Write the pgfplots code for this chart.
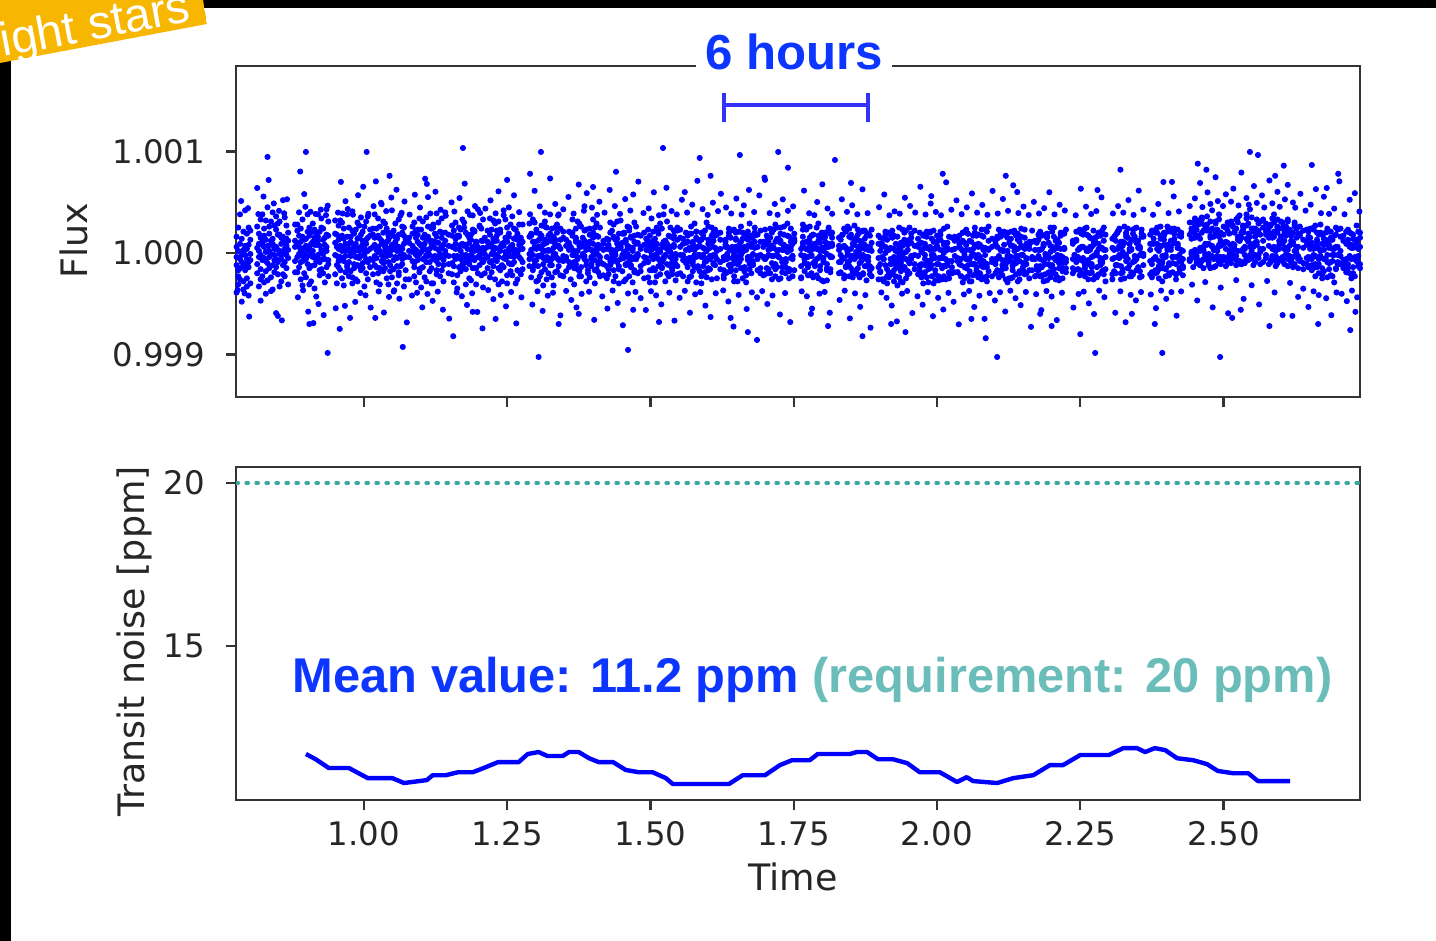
\documentclass[border=0pt]{standalone}
\usepackage{pgfplots}
\pgfplotsset{compat=1.18}
\usepackage{pgfplotstable}
\usepackage{fontspec}
\setmainfont{DejaVu Sans}
\newfontfamily\hfont{Liberation Sans}
\definecolor{txtblue}{RGB}{12,54,255}
\definecolor{reqteal}{RGB}{107,189,186}
\definecolor{dotteal}{RGB}{60,168,158}
\definecolor{bannerorange}{RGB}{247,183,0}
\definecolor{framegray}{RGB}{51,51,51}
\definecolor{ptblue}{RGB}{0,0,255}
\definecolor{barblue}{RGB}{50,50,250}

% time in millidays, flux as deviation from 1 in ppm (five samples per time step)
\pgfplotstableread{
t a b c d e
778 -120 160 -390 -40 60
781 -310 20 -170 250 -230
784 90 -260 -60 -150 380
787 -20 -480 140 -90 10
790 210 -130 -280 30 -360
793 -170 70 -20 420 -110
796 40 -330 190 -250 -60
799 -90 250 -140 80 -420
802 130 -70 -300 -10 220
814 260 -110 50 -200 640
817 -40 190 -330 90 20
820 150 -20 330 -160 -260
823 -230 80 110 380 -70
826 60 -290 -50 170 240
829 320 10 -180 -80 130
832 -100 450 70 -270 946
835 190 -150 260 20 -40
838 -10 120 -240 310 80
841 90 -360 140 -120 400
844 270 40 -70 -20 -190
847 -140 230 360 60 -60
850 30 -90 -210 180 290
853 180 310 20 -330 -10
856 -60 -20 150 90 -280
859 110 160 -120 -210 520
862 350 -230 40 10 -90
865 -20 70 270 -150 140
868 200 -50 -310 120 30
880 120 -190 60 280 -80
884 -190 280 90 -40 220
887 60 -140 400 170 -10
890 240 20 -90 -260 110
893 -80 330 160 -30 -320
896 130 -200 -10 580 50
899 995 70 -240 140 -60
902 -30 210 30 -110 380
905 170 -310 250 60 -150
908 10 90 -130 -280 200
911 290 -40 110 20 -20
914 -120 150 -350 230 80
917 80 -80 200 -60 -430
920 -50 380 -20 120 160
923 210 -170 70 -220 -90
926 30 10 -160 340 250
929 -200 240 130 -10 -60
932 150 -60 -290 80 30
935 60 180 20 -140 430
938 -70 -230 310 170 -110
950 -20 190 -210 100 320
953 180 -120 60 -300 -30
956 -140 40 270 130 -80
959 70 320 -40 -170 150
962 300 -60 170 20 -250
965 -80 140 -320 240 40
968 20 -190 90 -30 510
971 160 70 -120 380 -140
974 -230 250 30 -90 90
977 110 -30 -180 160 -10
980 40 410 220 -240 -300
983 -110 -150 10 80 190
986 230 90 -260 -40 60
989 -40 -280 140 300 -120
992 150 20 -50 -130 270
995 -170 180 350 60 -30
998 80 -100 -150 210 120
1001 20 260 -20 -330 40
1004 310 -60 130 90 -200
1007 -90 150 -260 20 360
1011 -60 230 -140 40 170
1016 180 -210 60 240 -70
1019 -30 80 380 -120 150
1022 240 -140 -50 30 -290
1025 60 340 170 -200 10
1028 -150 20 -310 140 260
1031 120 -80 90 -20 480
1034 -60 200 -180 310 -100
1037 290 60 20 -150 80
1040 10 -250 240 110 -30
1043 170 130 -90 -310 200
1046 -120 -20 160 50 -180
1049 80 420 -240 190 30
1052 220 -160 40 -70 -380
1055 -40 90 290 160 110
1058 140 -300 -130 20 -50
1061 -190 180 60 -220 330
1064 50 20 -10 370 -130
1067 260 -110 200 -60 40
1070 -20 250 -330 90 170
1073 110 -40 130 -170 -260
1079 150 -40 -260 100 20
1085 190 70 -80 260 10
1088 -100 -230 300 40 -140
1091 30 150 -20 -290 220
1094 230 -70 110 180 -30
1097 -160 340 -190 -10 90
1100 70 10 230 -150 -340
1103 310 -140 -60 60 150
1106 -50 180 90 -240 40
1109 140 -20 -280 350 -90
1112 20 260 160 -30 550
1115 -180 -90 40 120 -20
1118 90 120 -150 -300 240
1121 250 -300 280 70 -60
1124 -30 50 -40 190 110
1127 160 390 -210 -80 -170
1130 -110 -40 100 30 300
1133 40 210 -10 -230 -40
1136 200 -170 340 150 60
1139 -70 80 -120 -50 -280
1142 120 -10 200 400 20
1148 -110 180 70 -200 -30
1154 -210 270 60 -100 170
1157 60 -130 -290 220 -30
1160 300 40 140 -60 90
1163 -40 -220 -30 170 -350
1166 170 160 250 -140 40
1169 20 -60 -180 80 230
1172 -130 330 90 -20 -110
1175 250 -100 -50 300 70
1178 80 200 -310 -160 -20
1181 -90 -30 180 40 410
1184 150 100 -110 -250 -70
1187 -20 -270 30 130 180
1190 230 60 370 -40 -150
1193 -150 220 -70 210 20
1196 90 -150 110 -310 110
1199 30 430 -200 60 -40
1202 270 -20 -30 -120 260
1205 -60 120 240 20 -220
1208 120 -340 -90 330 50
1211 -200 40 150 -60 -10
1216 60 -150 220 -40 110
1220 180 -90 -240 90 340
1223 -10 230 60 -190 -80
1226 110 -130 320 20 140
1229 290 50 -70 -260 -30
1232 -80 -20 170 120 220
1235 40 310 -150 -40 -310
1238 200 -170 20 230 60
1241 -130 90 -280 70 -120
1244 70 -50 100 -140 420
1247 330 150 -30 10 -60
1250 -40 -220 250 -300 110
1253 160 40 -100 190 20
1256 -110 280 60 -30 -180
1259 50 -110 -220 360 80
1262 240 10 140 -90 -40
1265 -20 -300 30 150 230
1268 130 190 -170 -10 -260
1271 -180 -40 280 80 30
1274 90 120 -60 -210 150
1277 280 -160 110 40 -90
1289 -60 -10 160 290 -130
1292 170 -240 -40 30 190
1295 -140 110 330 -170 -20
1298 60 -80 -120 110 300
1301 230 200 40 -280 -70
1304 -30 -130 -270 60 120
1307 140 60 190 -30 -230
1310 -190 270 -20 170 40
1313 80 -50 90 -320 -110
1316 310 130 -160 20 260
1319 -70 -260 250 100 -40
1322 20 30 -50 -200 170
1325 190 -120 120 380 -80
1328 -120 240 -240 -60 20
1331 110 -20 50 160 -320
1334 250 90 -190 -10 130
1337 -50 -180 280 200 -50
1340 60 380 -70 -130 70
1343 -220 -70 130 40 240
1348 210 -80 -30 150 -230
1353 -40 130 -180 -60 70
1358 30 -90 210 100 -140
1361 -100 200 -110 -260 60
1364 200 -20 30 170 330
1367 -20 -310 -150 20 -90
1370 130 110 240 -110 150
1373 -160 20 -60 310 -40
1376 70 290 100 -180 -230
1379 260 -140 -230 60 80
1382 -30 70 150 -30 -10
1385 120 -60 -30 220 460
1388 -80 230 -280 -120 30
1391 40 -200 60 90 -170
1394 240 100 180 -240 110
1397 -130 -40 -110 30 -60
1400 90 330 10 150 200
1403 -10 -170 250 -70 -300
1406 170 50 -160 290 20
1409 -190 160 80 -20 -110
1412 50 -80 -40 -230 250
1418 90 -220 120 30 -110
1424 -40 -130 -250 40 140
1427 130 80 60 -160 -210
1430 -120 300 -80 200 30
1433 30 -50 220 -10 -90
1436 280 150 -170 -280 160
1439 -70 -230 20 130 -20
1442 90 40 140 -90 310
1445 -160 190 -300 50 -130
1448 60 -60 90 320 50
1451 190 100 -20 -180 -40
1454 -50 -280 200 10 190
1457 110 130 -110 -120 -260
1460 -10 -30 40 260 70
1463 250 220 -230 60 -80
1466 -140 -120 160 -40 150
1469 40 50 -60 -290 20
1472 170 -190 300 110 -170
1475 -60 260 -30 -60 90
1478 100 -10 -200 180 -30
1483 -130 60 170 -180 40
1489 200 -100 -40 80 -250
1493 140 90 30 140 -50
1496 -90 -240 230 -80 120
1499 60 170 -170 20 -290
1502 -170 -30 80 340 30
1505 210 120 -60 -150 80
1508 -20 -290 140 60 -170
1511 90 40 -230 -30 250
1514 -130 230 20 190 -60
1517 30 -80 290 -210 10
1520 240 -150 -90 80 -140
1523 -60 60 110 -40 380
1526 120 -30 -280 120 -20
1529 -200 310 40 -110 90
1532 20 -120 170 30 -230
1535 160 10 -40 250 60
1538 -40 -210 -150 -170 -90
1541 80 140 220 60 170
1544 -110 -60 -20 -270 -10
1547 220 250 -210 130 -130
1552 -20 150 -200 230 60
1557 140 -230 90 -70 -20
1562 100 30 -100 200 -60
1565 -140 -280 170 -90 110
1568 50 190 -50 30 -240
1571 190 -50 260 -230 40
1574 -80 90 -180 110 -110
1577 30 -140 60 -20 290
1580 210 210 -290 150 -40
1583 -150 -20 130 -130 60
1586 70 120 -20 70 -180
1589 -40 -230 200 -300 130
1592 150 50 -130 180 -20
1595 -190 -90 40 -50 220
1598 20 300 -240 20 -80
1601 130 -170 90 260 -150
1604 -60 70 -30 -160 50
1607 250 -40 170 90 -260
1610 -100 200 -110 -20 120
1613 50 -120 230 170 -30
1616 180 20 -60 -250 190
1622 -90 40 200 -160 130
1628 -220 -250 -170 -70 -40
1631 60 110 130 80 -200
1634 -30 -60 -10 -190 60
1637 170 200 240 40 -120
1640 -140 -180 -120 220 150
1643 40 60 20 -110 -50
1646 -60 -280 -230 -20 230
1649 200 140 60 130 -170
1652 -110 -90 -40 -280 20
1655 80 30 210 60 -90
1658 -20 260 -150 -60 110
1661 140 -150 10 200 -250
1664 -180 60 180 -140 30
1667 30 -220 -290 40 170
1670 210 130 70 -70 -40
1673 -70 -40 -110 290 -160
1676 90 170 150 -200 60
1679 -120 -110 -80 -20 -10
1682 50 250 170 110 200
1687 60 -170 -60 180 -30
1692 -150 220 110 -20 -200
1697 -40 60 110 -220 -40
1700 -60 230 -60 80 -210
1703 120 -40 170 -150 90
1706 -160 110 -200 30 -20
1709 40 -200 60 240 150
1712 200 70 -30 -100 -260
1715 -30 -130 230 50 50
1718 110 280 -160 -230 -110
1721 -140 -20 20 140 250
1724 30 140 -260 -40 -40
1727 250 -250 120 190 100
1730 -90 30 -70 -140 -190
1733 80 180 260 60 30
1736 -200 -90 -140 -60 -80
1739 10 60 40 290 170
1742 160 -160 -180 -160 -250
1745 -50 240 110 30 60
1748 90 -60 -30 -230 -30
1751 -170 120 190 110 140
1763 40 -240 -250 -20 -130
1766 230 100 70 160 280
1769 -60 -30 -100 -180 -60
1772 110 250 230 40 40
1775 -120 -140 -40 -110 -220
1778 20 70 150 260 110
1781 170 -200 -220 -30 -20
1784 -100 180 40 -240 180
1787 60 -80 -130 90 -100
1790 -220 40 250 -60 50
1793 120 290 -50 170 -250
1796 -30 -170 100 -130 20
1799 200 50 -270 30 150
1802 -80 -50 20 -280 -90
1805 50 200 160 110 60
1808 -150 -270 -110 -10 -170
1811 80 90 60 250 230
1814 190 -30 -190 -160 -40
1817 -40 150 200 70 90
1829 30 -200 150 -90 70
1832 -190 130 -90 -20 160
1835 60 -60 180 180 -50
1838 -50 240 -250 -220 70
1841 210 -140 50 50 -130
1844 10 20 -20 -90 260
1847 -130 -230 240 160 -80
1850 150 180 -150 -30 40
1853 -30 -50 90 -240 -190
1856 80 110 -60 270 110
1859 -170 -200 150 10 -40
1862 230 60 -210 -150 180
1865 -20 -100 30 120 -240
1868 100 210 -80 -50 60
1871 -210 -20 220 -200 -60
1874 40 140 -130 80 220
1877 170 -270 60 -40 -130
1880 -80 50 -40 190 30
1883 60 -130 170 -170 -210
1886 -150 230 -230 20 100
1898 -140 90 -50 170 -260
1901 -110 -180 20 150 -190
1904 90 60 -260 -40 90
1907 -260 -60 140 -280 -60
1910 0 210 -120 60 180
1913 130 -230 30 -160 -300
1916 -190 40 -240 200 30
1919 50 -110 180 -60 -110
1922 -70 150 -70 -210 220
1925 170 -280 -170 40 -40
1928 -150 20 90 -110 -230
1931 10 -70 -320 160 80
1934 -240 250 40 -30 -140
1937 100 -180 -100 -280 20
1940 -60 -20 230 70 -290
1943 200 110 -140 -140 130
1946 -170 -250 10 220 -60
1949 30 80 -210 -70 -180
1952 -100 -100 130 -200 250
1955 150 190 -60 100 -30
1961 70 -160 220 -110 -20
1967 80 -30 60 -210 140
1970 -140 200 -180 90 -120
1973 20 -240 100 -110 10
1976 170 40 -300 180 -220
1979 -190 -120 -20 -60 90
1982 50 160 210 -240 -80
1985 -80 -290 -120 50 -160
1988 210 30 60 -150 200
1991 -120 -60 -230 140 -20
1994 40 220 110 -20 -300
1997 -210 -170 -50 -270 40
2000 110 70 170 60 -110
2003 -50 -230 -270 -110 150
2006 180 130 30 210 -50
2009 -130 -40 -150 -50 -260
2012 0 240 100 -230 80
2015 -260 -130 -60 50 -120
2018 100 50 260 -120 30
2021 -80 -250 -200 160 -190
2026 -200 30 -80 150 -140
2031 120 -190 160 -30 40
2036 -190 -50 140 -190 -80
2039 60 170 -110 90 60
2042 -120 -230 40 -60 -230
2045 200 20 -290 200 120
2048 -40 -140 100 -250 -20
2051 80 230 -60 30 -150
2054 -230 -60 190 -120 190
2057 30 -280 -180 120 -60
2060 -110 110 20 -30 -280
2063 170 -20 -110 -220 40
2066 -20 200 250 80 -110
2069 -170 -190 -50 -140 170
2072 90 60 -240 180 -20
2075 -60 -90 80 -40 -200
2078 230 170 -130 -260 60
2081 -140 -240 160 30 -80
2084 50 40 -20 -100 230
2087 -230 -110 -280 210 -140
2090 120 260 40 -180 30
2096 -60 140 -230 60 -90
2102 -110 -200 120 -60 90
2105 160 60 -60 140 -170
2108 -180 -40 230 -240 -30
2111 30 200 -190 30 160
2114 -70 -160 20 -120 -220
2117 210 80 -120 190 20
2120 -150 -260 170 -70 -110
2123 20 150 -30 -290 200
2126 -80 -30 -250 100 -60
2129 140 210 70 -40 -250
2132 -240 -120 -130 -170 70
2135 60 20 220 200 -90
2138 -30 -210 -60 -100 170
2141 190 130 -280 40 -30
2144 -180 -80 110 -260 -200
2147 70 240 -20 160 60
2150 -100 -170 -180 -20 -140
2153 150 40 60 -210 230
2156 -200 -60 -110 90 -50
2161 40 -250 80 -170 110
2166 -170 110 -40 220 -60
2171 -60 -230 -60 120 30
2174 120 100 -220 -160 -130
2177 -170 -30 130 30 180
2180 30 210 -130 -230 -60
2183 -230 -140 40 170 -220
2186 90 70 -280 -80 80
2189 -50 -210 180 -10 -110
2192 190 160 -40 -270 150
2195 -110 -50 -190 100 -40
2198 10 250 70 -130 -240
2201 -200 -180 -120 210 60
2204 160 30 250 -50 -160
2207 -70 -260 -60 -210 120
2210 80 130 -240 50 -20
2213 -150 -70 100 -100 -270
2216 200 190 -30 170 40
2219 -40 -150 -180 -250 -100
2222 50 40 190 40 200
2225 -190 230 -90 -150 -60
2237 90 -60 -200 120 -150
2240 -20 -170 120 -20 120
2243 130 120 -40 210 -90
2246 -160 -40 210 -160 30
2249 40 230 -170 50 -220
2252 -70 -200 60 -70 190
2255 210 60 -80 180 -50
2258 -120 -100 240 -230 -150
2261 20 180 -190 40 250
2264 170 -260 20 -110 -70
2267 -200 30 150 150 60
2270 60 -140 -110 -40 -190
2273 -30 220 80 -260 120
2276 150 -20 -230 110 -20
2279 -140 160 10 -20 -240
2282 90 -210 190 200 40
2285 -50 50 -80 -120 170
2288 220 -80 -180 50 -100
2291 -170 250 120 -210 30
2294 30 -160 -40 180 -280
2306 -60 -260 -210 50 140
2309 160 40 30 -180 -50
2312 -120 -120 180 120 -200
2315 40 200 -120 -40 210
2318 230 -50 70 240 -20
2321 -200 110 -260 -130 60
2324 70 -190 110 10 -160
2327 -30 260 -30 -250 100
2330 180 -20 200 160 -80
2333 -150 150 -150 -60 240
2336 20 -230 40 90 -120
2339 130 40 -230 -190 30
2342 -90 190 130 230 -210
2345 240 -80 -70 -30 160
2348 -60 -170 250 100 -40
2351 50 120 -140 -160 80
2354 -180 -20 60 40 -240
2357 160 230 -10 -230 190
2360 -10 -120 170 160 -30
2372 -80 180 30 -210 90
2375 -190 -240 90 220 -110
2378 90 140 -60 -60 220
2381 -40 -50 200 -170 -200
2384 200 250 -190 90 40
2387 -130 -160 20 -250 -80
2390 60 70 260 140 170
2393 -80 -280 -100 -30 -150
2396 190 170 130 200 80
2399 -160 -20 -230 -150 -40
2402 30 210 50 80 260
2405 -100 -110 -120 -220 -200
2408 240 60 210 120 30
2411 -40 -190 -40 -40 -100
2414 100 100 140 240 190
2417 -210 -40 -210 -110 -260
2420 50 230 90 50 70
2423 170 -150 -80 -190 -20
2426 -90 30 190 160 200
2429 20 -220 -150 -60 -130
2441 -80 300 -60 -70 180
2444 140 10 240 210 -10
2447 -40 -140 -10 -40 300
2450 260 190 150 340 30
2453 10 -30 -100 -80 230
2456 170 280 320 170 -70
2459 -120 50 20 -120 140
2462 330 -80 200 290 350
2465 60 220 -150 30 -60
2468 -20 -10 90 -60 260
2471 220 360 280 240 80
2474 -90 90 -50 -10 -120
2477 150 -150 170 310 220
2480 70 240 420 60 -30
2483 -60 30 30 -140 160
2486 290 180 -130 200 310
2489 20 -60 230 -30 50
2492 160 330 80 380 -90
2495 -110 70 -40 120 200
2500 180 -40 260 90 -70
2504 40 250 110 250 -130
2507 220 -100 300 -50 100
2510 -60 -20 190 20 280
2513 310 300 -60 -100 70
2516 90 10 260 270 -40
2519 -30 200 40 80 210
2522 240 -70 -120 -30 330
2525 130 350 160 300 20
2528 -80 120 370 120 -100
2531 200 -110 20 -110 150
2534 40 270 230 200 260
2537 -100 60 -80 40 -20
2540 270 -40 140 340 380
2543 110 190 290 -70 120
2546 -20 430 60 160 -60
2549 350 20 -50 70 240
2552 60 -120 210 240 90
2555 160 240 100 -90 -20
2558 -40 80 330 110 190
2561 220 -50 -20 290 310
2564 10 310 180 40 -110
2569 250 120 -90 330 40
2574 -50 290 180 -20 210
2579 -110 200 250 150 70
2582 170 -90 -70 280 270
2585 40 340 150 -40 -30
2588 300 60 380 210 160
2591 -30 -80 40 20 -130
2594 200 260 -100 330 250
2597 80 120 240 -60 40
2600 -70 -60 110 160 310
2603 250 300 -40 90 -80
2606 120 40 220 -110 190
2609 -10 170 30 260 50
2612 330 -130 310 30 -60
2615 70 220 -30 200 230
2618 -90 90 170 -80 120
2621 200 -40 90 110 -140
2624 20 260 -110 300 280
2627 150 0 240 40 60
2630 -60 190 60 -150 -30
2633 260 -80 -60 170 190
2639 130 -100 220 50 -160
2645 -110 -50 120 230 80
2648 160 210 -140 -40 -60
2651 40 -130 70 150 240
2654 -60 100 -40 -120 -170
2657 230 -20 250 40 60
2660 -140 270 -110 -230 -30
2663 70 -140 130 110 200
2666 180 40 -200 -60 -110
2669 -30 200 20 280 30
2672 90 -210 180 -150 -250
2675 -180 80 -60 30 140
2678 130 -60 110 200 -60
2681 -20 240 -240 -90 90
2684 210 -100 50 80 -160
2687 -90 130 150 -220 210
2690 40 -230 -80 130 -20
2693 170 50 40 -20 -290
2696 -150 180 -160 250 60
2699 60 -20 230 -110 -90
2704 -110 160 -30 240 20
2709 170 -70 120 -150 -90
2714 -60 210 90 -190 -130
2717 130 -110 -150 100 230
2720 -200 60 200 -30 -40
2723 50 -250 -60 190 80
2726 180 140 50 -140 -200
2729 -40 -60 -230 60 130
2732 100 270 130 -80 -70
2735 -130 -100 -30 210 40
2738 60 150 200 -110 -150
}\fluxtable

% samples in the wings of the distribution (millidays, ppm)
\pgfplotstableread{
t f
780 -365
786 512
792 -398
798 441
800 -627
816 383
820 -470
825 556
829 -402
834 719
838 -376
843 488
847 -593
852 415
857 -664
861 391
866 529
885 -437
889 802
894 -368
898 455
903 -578
907 406
912 -691
916 384
921 -503
925 427
930 -612
934 372
937 466
951 -545
955 398
958 -748
963 389
967 -521
972 433
976 -640
981 377
985 -482
990 569
994 -394
999 652
1003 -417
1008 386
1012 -538
1017 461
1021 705
1026 -379
1030 494
1035 -587
1039 412
1044 -433
1048 546
1053 -368
1057 623
1062 -451
1066 395
1071 507
1075 -684
1080 378
1084 -419
1089 574
1093 -392
1098 448
1102 -536
1107 731
1111 -404
1116 389
1120 -472
1125 603
1129 -381
1134 426
1138 -559
1143 367
1149 -647
1153 498
1158 408
1162 -389
1167 541
1171 -426
1176 683
1180 -512
1185 375
1189 -397
1194 462
1198 -581
1203 394
1207 -743
1212 437
1217 -366
1221 518
1226 -455
1230 390
1235 607
1239 -414
1244 371
1248 -526
1253 449
1257 -385
1262 568
1266 -694
1271 402
1275 -437
1290 381
1294 -508
1298 612
1303 -378
1307 459
1312 -571
1316 397
1321 -421
1325 734
1330 -392
1334 483
1339 369
1343 -615
1348 430
1353 -374
1357 552
1362 -463
1366 388
1371 -537
1375 674
1380 -403
1384 416
1389 589
1393 -382
1398 447
1402 -659
1407 376
1411 505
1416 -428
1420 397
1425 -548
1429 621
1434 -370
1438 462
1443 -493
1447 385
1452 -712
1456 531
1461 -399
1465 418
1470 576
1474 -384
1479 703
1483 -445
1488 393
1492 -562
1497 439
1501 -377
1506 598
1510 -418
1515 371
1519 -506
1524 457
1528 642
1533 -391
1537 413
1542 -667
1546 380
1551 -442
1555 524
1560 -373
1564 398
1569 -589
1573 476
1578 -407
1582 711
1587 -386
1591 432
1596 -519
1600 375
1605 -631
1609 495
1614 -397
1618 412
1623 583
1627 -369
1632 448
1636 -478
1641 389
1645 -725
1650 536
1654 -413
1659 378
1663 469
1668 -552
1672 621
1677 -388
1681 403
1686 -437
1690 567
1695 -376
1699 742
1704 -503
1708 392
1713 -419
1717 483
1722 376
1726 -606
1731 528
1735 -395
1740 415
1744 -681
1749 459
1764 -378
1768 614
1773 -427
1777 391
1782 -548
1786 373
1791 502
1795 -401
1800 676
1804 -384
1809 438
1813 -589
1817 386
1830 -463
1834 529
1839 -372
1843 405
1848 -645
1852 470
1857 -398
1861 381
1866 -531
1870 627
1875 -415
1879 392
1884 -736
1899 451
1903 -389
1908 576
1912 -442
1917 371
1921 -518
1926 410
1930 -674
1935 387
1939 -401
1944 544
1948 -375
1953 463
1957 -592
1962 398
1966 -427
1971 652
1975 -510
1980 379
1984 -386
1989 487
1993 -623
1998 404
2002 -442
2007 371
2011 -557
2016 696
2020 -393
2025 426
2029 -481
2034 518
2038 -703
2043 382
2047 -408
2052 449
2056 -374
2061 586
2065 -532
2070 397
2074 -421
2079 473
2083 -649
2088 376
2092 -395
2097 611
2101 -468
2106 389
2110 -387
2115 532
2119 -577
2124 415
2128 -372
2133 667
2137 -446
2142 393
2146 -514
2151 457
2155 -384
2160 374
2164 -728
2169 503
2173 -406
2178 389
2182 -563
2187 441
2191 -375
2196 598
2200 -429
2205 380
2209 -661
2214 475
2218 -392
2223 418
2238 -538
2242 371
2247 -404
2251 633
2256 -381
2260 456
2265 -497
2269 384
2274 -602
2278 412
2283 -371
2287 548
2292 -436
2307 389
2311 -589
2316 462
2320 -378
2325 397
2329 -682
2334 521
2338 -413
2343 375
2347 -467
2352 614
2356 -385
2360 428
2373 -409
2377 376
2382 -544
2386 483
2391 -371
2395 699
2400 -452
2404 392
2409 -386
2413 557
2418 -618
2422 409
2426 -379
2441 462
2445 -312
2450 538
2454 -468
2459 689
2463 452
2468 -287
2472 597
2477 483
2481 -536
2486 746
2490 511
2495 -341
2499 462
2504 578
2508 -594
2513 505
2517 634
2522 -268
2526 468
2531 792
2535 -452
2540 541
2544 476
2549 -318
2553 659
2558 493
2562 -507
2567 567
2571 448
2576 -276
2580 714
2585 489
2589 -389
2594 602
2598 455
2603 -612
2607 528
2612 671
2616 -295
2621 497
2625 446
2630 -433
2634 583
2639 -352
2643 417
2648 -532
2652 476
2657 -378
2661 629
2666 -415
2670 392
2675 554
2679 -446
2684 385
2688 -613
2693 437
2697 -389
2702 706
2706 -402
2711 381
2715 -475
2720 524
2724 -371
2729 589
2733 -437
2737 408
}\wingtable

% sparse outlying samples (millidays, ppm)
\pgfplotstableread{
t f
850 -620
905 -700
937 -985
960 700
1005 995
1020 -640
1045 760
1068 -926
1110 680
1156 -820
1173 1034
1190 -580
1230 -650
1250 720
1290 780
1305 -1025
1309 995
1340 -700
1375 -600
1400 650
1440 800
1461 -955
1470 -560
1515 -680
1522 1034
1560 600
1586 936
1605 760
1640 -640
1656 965
1670 -780
1686 -857
1700 720
1723 995
1740 840
1780 -600
1810 -720
1822 916
1850 690
1870 -820
1920 -700
1945 -780
1990 560
2010 780
2060 -650
2085 -840
2105 -1025
2120 760
2140 600
2180 -600
2200 -720
2250 -800
2276 -985
2280 620
2320 820
2340 -600
2380 -700
2393 -985
2410 700
2455 880
2470 820
2494 -1025
2515 -640
2530 -560
2546 995
2560 965
2580 -720
2590 760
2605 860
2620 -620
2654 867
2665 -700
2680 640
2700 780
2721 -760
2730 -580
}\outliertable

\pgfplotstableread{
x y
0.899 11.69
0.916 11.53
0.939 11.26
0.974 11.26
1.007 10.95
1.050 10.95
1.070 10.80
1.110 10.89
1.120 11.04
1.143 11.04
1.164 11.13
1.190 11.13
1.209 11.26
1.234 11.44
1.270 11.44
1.286 11.69
1.305 11.75
1.320 11.63
1.347 11.63
1.358 11.75
1.375 11.75
1.393 11.56
1.410 11.44
1.435 11.44
1.457 11.20
1.480 11.13
1.504 11.13
1.527 10.95
1.539 10.77
1.637 10.77
1.661 11.04
1.700 11.04
1.726 11.35
1.747 11.50
1.778 11.50
1.792 11.69
1.848 11.69
1.860 11.75
1.878 11.75
1.897 11.53
1.923 11.53
1.948 11.41
1.970 11.13
2.005 11.13
2.035 10.83
2.052 10.98
2.063 10.86
2.105 10.80
2.133 10.95
2.168 11.04
2.197 11.35
2.220 11.35
2.250 11.66
2.300 11.66
2.325 11.87
2.349 11.87
2.363 11.75
2.380 11.87
2.398 11.81
2.419 11.56
2.447 11.50
2.471 11.38
2.490 11.17
2.517 11.10
2.543 11.10
2.560 10.86
2.616 10.86
}\noisetable

\pgfplotsset{
  panel/.style={
    scale only axis, width=281pt,
    axis line style={framegray, line width=0.6pt},
    every tick/.style={framegray, line width=0.6pt},
    tick align=outside, major tick length=2.5pt,
    xtick pos=left, ytick pos=left,
    ticklabel style={font=\fontsize{8.1}{9.7}\selectfont, text=black!85},
    yticklabel style={anchor=east, inner sep=0pt, xshift=-5pt},
    xticklabel style={anchor=base, inner sep=0pt, yshift=-9pt},
    clip=true,
  },
  pts/.style={only marks, mark=*, mark size=0.55pt, ptblue, mark options={draw=none, fill=ptblue}},
}

\begin{document}
\begin{tikzpicture}[x=1pt,y=1pt]
\useasboundingbox (0,0) rectangle (359,235.25);
\fill[white] (0,0) rectangle (359,235.25);
\fill[black] (0,0) rectangle (2.75,235.25);
\fill[black] (0,233.25) rectangle (359,235.25);
\begin{scope}
  \clip (0,235.25) -- (50.75,235.25) -- (51.75,229.25) -- (0,219.5) -- cycle;
  \fill[bannerorange] (0,235.25) -- (50.75,235.25) -- (51.75,229.25) -- (0,219.5) -- cycle;
  \node[anchor=base west, inner sep=0pt, rotate=10.7, text=white, font=\hfont\fontsize{11.8}{14}\selectfont] at (0.75,221.0) {ight stars};
\end{scope}

\begin{axis}[panel, at={(59pt,136pt)}, anchor=south west, height=82.75pt,
  xmin=777, xmax=2738, ymin=-1419, ymax=1842,
  xtick={1000,1250,1500,1750,2000,2250,2500}, xticklabels={},
  ytick={-1000,0,1000}, yticklabels={0.999,1.000,1.001},
  ylabel={Flux},
  every axis y label/.style={at={(axis description cs:-0.1317,0.471)}, rotate=90, anchor=base, font=\fontsize{9.1}{11}\selectfont, text=black!85},
]
\foreach \c in {a,b,c,d,e}{
  \addplot[pts] table[x=t, y=\c] {\fluxtable};
}
\addplot[pts] table[x=t, y=f] {\wingtable};
\addplot[pts] table[x=t, y=f] {\outliertable};
\draw[barblue, line width=1pt] (axis cs:1629,1458) -- (axis cs:1879,1458);
\draw[barblue, line width=1pt] (axis cs:1629,1291) -- (axis cs:1629,1576);
\draw[barblue, line width=1pt] (axis cs:1879,1291) -- (axis cs:1879,1576);
\end{axis}

\begin{axis}[panel, at={(59pt,35.25pt)}, anchor=south west, height=83.25pt,
  xmin=0.777, xmax=2.738, ymin=10.28, ymax=20.49,
  xtick={1.00,1.25,1.50,1.75,2.00,2.25,2.50},
  xticklabels={1.00,1.25,1.50,1.75,2.00,2.25,2.50},
  ytick={15,20}, yticklabels={15,20},
  xlabel={Time}, ylabel={Transit noise [ppm]},
  every axis x label/.style={at={(axis description cs:0.4956,-0.273)}, anchor=base, font=\fontsize{9.1}{11}\selectfont, text=black!85},
  every axis y label/.style={at={(axis description cs:-0.081,0.476)}, rotate=90, anchor=base, font=\fontsize{9.1}{11}\selectfont, text=black!85},
]
\addplot[dotteal, line width=0.8pt, dash pattern=on 0.6pt off 1.9pt, line cap=round] coordinates {(0.777,20) (2.738,20)};
\addplot[ptblue, line width=1.1pt, mark=none, line join=round] table[x=x, y=y] {\noisetable};
\end{axis}

\node[anchor=base, fill=white, inner xsep=2.4pt, inner ysep=1pt, text=txtblue, font=\hfont\bfseries\fontsize{12.3}{14}\selectfont] at (198.5,217.75) {6 hours};
\node[anchor=base west, inner sep=0pt, font=\hfont\bfseries\fontsize{12.2}{14}\selectfont] at (73,62) {\textcolor{txtblue}{Mean value: 11.2 ppm} \textcolor{reqteal}{(requirement: 20 ppm)}};
\end{tikzpicture}
\end{document}
